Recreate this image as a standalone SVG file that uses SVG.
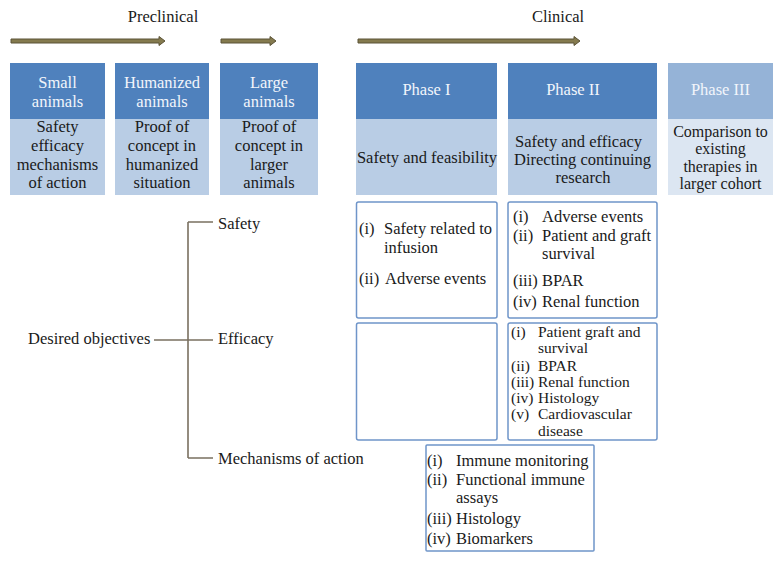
<svg xmlns="http://www.w3.org/2000/svg" width="784" height="561" viewBox="0 0 784 561">
<style>
text{font-family:"Liberation Serif","Times New Roman",serif;font-size:16.5px;fill:#1a1a1a}
.c{text-anchor:middle}
.h{fill:#f2f5fb}
.hd{fill:#4f81bd}
.bd{fill:#b9cde5}
.h3{fill:#95b3d7}
.b3{fill:#dce6f2}
.ob{fill:#fff;stroke:#6f95c9;stroke-width:1.5}
.arr{fill:#847a4e;stroke:#5b5236;stroke-width:1}
.tl{stroke:#7a7060;stroke-width:1.6;fill:none}
.dn text{font-size:15.5px}
.p3 text.s{font-size:16px}
</style>
<rect width="784" height="561" fill="#fff"/>
<g id="labels">
<text class="c" x="163" y="22">Preclinical</text>
<text class="c" x="558" y="22">Clinical</text>
</g>
<g id="arrows">
<polygon class="arr" points="11,39 159,39 159,36.5 165,41 159,45.5 159,43 11,43"/>
<polygon class="arr" points="221,39 270,39 270,36.5 276,41 270,45.5 270,43 221,43"/>
<polygon class="arr" points="358,39 574,39 574,36.5 580,41 574,45.5 574,43 358,43"/>
</g>
<g id="small-animals">
<rect class="hd" x="10" y="63" width="95" height="56"/>
<rect class="bd" x="10" y="119" width="95" height="76"/>
<text class="c h" x="57.5" y="88">Small</text>
<text class="c h" x="57.5" y="107">animals</text>
<text class="c" x="57.5" y="132">Safety</text>
<text class="c" x="57.5" y="151">efficacy</text>
<text class="c" x="57.5" y="170">mechanisms</text>
<text class="c" x="57.5" y="188">of action</text>
</g>
<g id="humanized-animals">
<rect class="hd" x="115" y="63" width="94" height="56"/>
<rect class="bd" x="115" y="119" width="94" height="76"/>
<text class="c h" x="162" y="88">Humanized</text>
<text class="c h" x="162" y="107">animals</text>
<text class="c" x="162" y="132">Proof of</text>
<text class="c" x="162" y="151">concept in</text>
<text class="c" x="162" y="170">humanized</text>
<text class="c" x="162" y="188">situation</text>
</g>
<g id="large-animals">
<rect class="hd" x="220" y="63" width="98" height="56"/>
<rect class="bd" x="220" y="119" width="98" height="76"/>
<text class="c h" x="269" y="88">Large</text>
<text class="c h" x="269" y="107">animals</text>
<text class="c" x="269" y="132">Proof of</text>
<text class="c" x="269" y="151">concept in</text>
<text class="c" x="269" y="170">larger</text>
<text class="c" x="269" y="188">animals</text>
</g>
<g id="phase-1">
<rect class="hd" x="356" y="63" width="141" height="56"/>
<rect class="bd" x="356" y="119" width="141" height="76"/>
<text class="c h" x="426.5" y="95">Phase I</text>
<text class="c" x="427" y="163">Safety and feasibility</text>
</g>
<g id="phase-2">
<rect class="hd" x="508" y="63" width="149" height="56"/>
<rect class="bd" x="508" y="119" width="149" height="76"/>
<text class="c h" x="573" y="95">Phase II</text>
<text x="515" y="147">Safety and efficacy</text>
<text x="514" y="165">Directing continuing</text>
<text class="c" x="583" y="183">research</text>
</g>
<g id="phase-3" class="p3">
<rect class="h3" x="668" y="63" width="105" height="56"/>
<rect class="b3" x="668" y="119" width="105" height="76"/>
<text class="c h" x="720.5" y="95">Phase III</text>
<text class="c s" x="720.5" y="137">Comparison to</text>
<text class="c s" x="720.5" y="154">existing</text>
<text class="c s" x="720.5" y="172">therapies in</text>
<text class="c s" x="720.5" y="189">larger cohort</text>
</g>
<g id="objectives">
<text x="28" y="344">Desired objectives</text>
<text x="218" y="229">Safety</text>
<text x="218" y="344">Efficacy</text>
<text x="218" y="464">Mechanisms of action</text>
</g>
<g id="connectors">
<path class="tl" d="M154,340H213M188,222V458M188,222H213M188,458H213"/>
</g>
<g id="phase1-safety">
<rect class="ob" x="356.5" y="202" width="140.5" height="116" rx="2"/>
<text x="359" y="234">(i)</text><text x="384" y="234">Safety related to</text>
<text x="384" y="253">infusion</text>
<text x="359" y="284">(ii)</text><text x="385" y="284">Adverse events</text>
</g>
<g id="phase2-safety">
<rect class="ob" x="508" y="202" width="149" height="116" rx="2"/>
<text x="513" y="222">(i)</text><text x="542" y="222">Adverse events</text>
<text x="513" y="241">(ii)</text><text x="542" y="241">Patient and graft</text>
<text x="542" y="259">survival</text>
<text x="513" y="286">(iii)</text><text x="542" y="286">BPAR</text>
<text x="513" y="307">(iv)</text><text x="542" y="307">Renal function</text>
</g>
<g id="phase1-efficacy">
<rect class="ob" x="356.5" y="323" width="140.5" height="117" rx="2"/>
</g>
<g id="phase2-efficacy" class="dn">
<rect class="ob" x="508" y="323" width="149" height="117" rx="2"/>
<text x="511" y="337">(i)</text><text x="538" y="337">Patient graft and</text>
<text x="538" y="353">survival</text>
<text x="511" y="371">(ii)</text><text x="538" y="371">BPAR</text>
<text x="511" y="387">(iii)</text><text x="538" y="387">Renal function</text>
<text x="511" y="403">(iv)</text><text x="538" y="403">Histology</text>
<text x="511" y="419">(v)</text><text x="538" y="419">Cardiovascular</text>
<text x="538" y="436">disease</text>
</g>
<g id="mechanisms">
<rect class="ob" x="426" y="445" width="168" height="106" rx="1"/>
<text x="427" y="466">(i)</text><text x="456" y="466">Immune monitoring</text>
<text x="427" y="485">(ii)</text><text x="456" y="485">Functional immune</text>
<text x="456" y="503">assays</text>
<text x="427" y="524">(iii)</text><text x="456" y="524">Histology</text>
<text x="427" y="544">(iv)</text><text x="456" y="544">Biomarkers</text>
</g>
</svg>
